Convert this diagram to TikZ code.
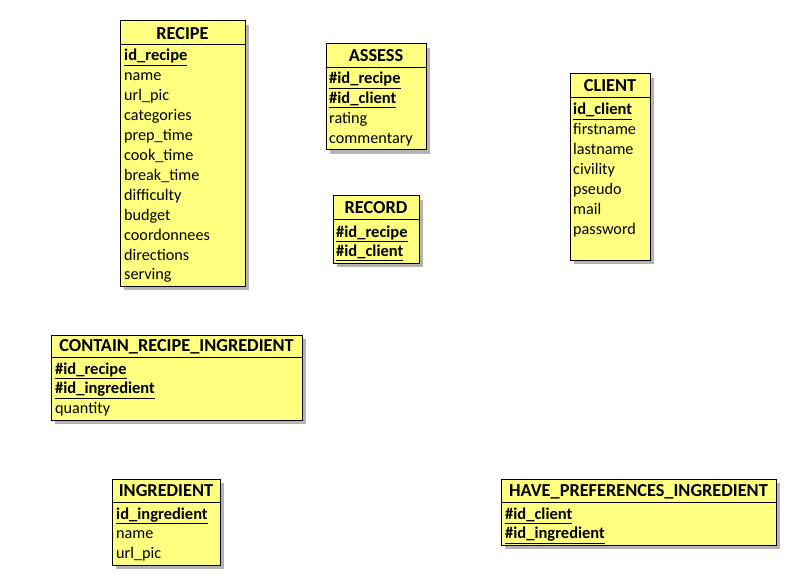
\documentclass[tikz,border=0pt]{standalone}
\usepackage{fontspec}
\setmainfont{Carlito}
\definecolor{entfill}{HTML}{FFFF80}
\definecolor{shd}{HTML}{B4B4B4}
\tikzset{
  shadowbox/.style={fill=shd, draw=none},
  entbox/.style={fill=entfill, draw=black, line width=1pt},
  sepline/.style={draw=black, line width=0.9pt},
  ttl/.style={font=\fontsize{18.3}{21}\selectfont\bfseries, inner sep=0pt, anchor=base},
  att/.style={font=\fontsize{16.2}{19}\selectfont, inner sep=0pt, anchor=base west},
  keyatt/.style={font=\fontsize{16.5}{19}\selectfont\bfseries, inner sep=0pt, anchor=base west},
}
\newcommand{\entframe}[5]{%
  \fill[shadowbox] (#1+4,#2+4) rectangle (#3+4,#4+4);
  \draw[entbox] (#1,#2) rectangle (#3,#4);
  \draw[sepline] (#1,#5) -- (#3,#5);
}
\newcommand{\ul}[1]{\underline{#1}}
\begin{document}
\begin{tikzpicture}[x=1pt,y=-1pt]
\useasboundingbox (0,0) rectangle (786,577);
\fill[white] (0,0) rectangle (786,577);

% RECIPE
\entframe{120}{21}{245}{286}{44}
\node[ttl] (recipeT) at (182.5,39.5) {RECIPE};
\node[keyatt] (recipe1) at (124,61) {\ul{id\_recipe}};
\node[att] (recipe2) at (124,80.9) {name};
\node[att] (recipe3) at (124,100.8) {url\_pic};
\node[att] (recipe4) at (124,120.7) {categories};
\node[att] (recipe5) at (124,140.6) {prep\_time};
\node[att] (recipe6) at (124,160.5) {cook\_time};
\node[att] (recipe7) at (124,180.4) {break\_time};
\node[att] (recipe8) at (124,200.3) {difficulty};
\node[att] (recipe9) at (124,220.2) {budget};
\node[att] (recipe10) at (124,240.1) {coordonnees};
\node[att] (recipe11) at (124,260) {directions};
\node[att] (recipe12) at (124,279.9) {serving};

% ASSESS
\entframe{326}{44}{426}{150}{67}
\node[ttl] (assessT) at (376,61.5) {ASSESS};
\node[keyatt] (assess1) at (329,84) {\ul{\#id\_recipe}};
\node[keyatt] (assess2) at (329,103.9) {\ul{\#id\_client}};
\node[att] (assess3) at (329,123.8) {rating};
\node[att] (assess4) at (329,143.7) {commentary};

% RECORD
\entframe{333}{196}{419}{263}{219}
\node[ttl] (recordT) at (376,213.5) {RECORD};
\node[keyatt] (record1) at (336,237) {\ul{\#id\_recipe}};
\node[keyatt] (record2) at (336,256.9) {\ul{\#id\_client}};

% CLIENT
\entframe{570}{74}{650}{260}{97}
\node[ttl] (clientT) at (610,91.5) {CLIENT};
\node[keyatt] (client1) at (573,115) {\ul{id\_client}};
\node[att] (client2) at (573,134.9) {firstname};
\node[att] (client3) at (573,154.8) {lastname};
\node[att] (client4) at (573,174.7) {civility};
\node[att] (client5) at (573,194.6) {pseudo};
\node[att] (client6) at (573,214.5) {mail};
\node[att] (client7) at (573,234.4) {password};

% CONTAIN_RECIPE_INGREDIENT
\entframe{51}{335}{302}{420}{357}
\node[ttl] (containT) at (176.5,351.5) {CONTAIN\_RECIPE\_INGREDIENT};
\node[keyatt] (contain1) at (55,374) {\ul{\#id\_recipe}};
\node[keyatt] (contain2) at (55,393.9) {\ul{\#id\_ingredient}};
\node[att] (contain3) at (55,413.8) {quantity};

% INGREDIENT
\entframe{112}{479}{220}{565}{502}
\node[ttl] (ingredientT) at (166,496.5) {INGREDIENT};
\node[keyatt] (ingredient1) at (116,519) {\ul{id\_ingredient}};
\node[att] (ingredient2) at (116,538.9) {name};
\node[att] (ingredient3) at (116,558.8) {url\_pic};

% HAVE_PREFERENCES_INGREDIENT
\entframe{501}{479}{776}{545}{502}
\node[ttl] (haveT) at (638.5,496.5) {HAVE\_PREFERENCES\_INGREDIENT};
\node[keyatt] (have1) at (505,519) {\ul{\#id\_client}};
\node[keyatt] (have2) at (505,538.9) {\ul{\#id\_ingredient}};
\end{tikzpicture}
\end{document}
